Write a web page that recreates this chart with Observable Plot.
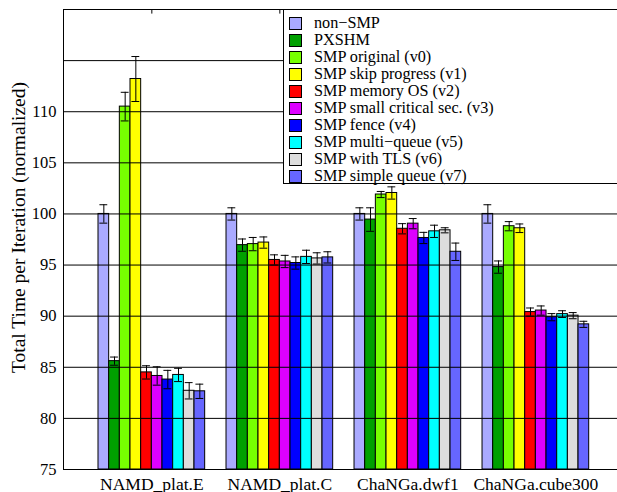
<!DOCTYPE html>
<html>
<head>
<meta charset="utf-8">
<script src="https://cdn.jsdelivr.net/npm/d3@7"></script>
<script src="https://cdn.jsdelivr.net/npm/@observablehq/plot@0.6"></script>
<style>
  html, body { margin: 0; padding: 0; background: #fff; overflow: hidden; }
  #wrap { position: relative; width: 617px; height: 492px; font-family: "Liberation Serif", "Times New Roman", serif; }
  #legend { position: absolute; left: 283px; top: 9px; width: 345px; height: 175px; background: #fff; border: 1px solid #000; box-sizing: border-box; }
  .row { position: absolute; left: 0; height: 17px; display: flex; align-items: center; font-size: 16.2px; color: #000; white-space: nowrap; }
  .sw { width: 11px; height: 11px; border: 1px solid #000; margin-left: 5px; margin-right: 12px; flex: none; }
</style>
</head>
<body>
<div id="wrap"><div id="chart"></div><div id="legend"></div></div>
<script>
const groups = ["NAMD_plat.E", "NAMD_plat.C", "ChaNGa.dwf1", "ChaNGa.cube300"];
const series = ["non−SMP", "PXSHM", "SMP original (v0)", "SMP skip progress (v1)", "SMP memory OS (v2)",
  "SMP small critical sec. (v3)", "SMP fence (v4)", "SMP multi−queue (v5)", "SMP with TLS (v6)", "SMP simple queue (v7)"];
const colors = ["#aaaaff", "#00a000", "#77ff00", "#ffff00", "#ff0000", "#dd00ff", "#0000ff", "#00ffff", "#dddddd", "#6666ff"];

const valuesNamdE = [100, 85.6, 110.5, 113.2, 84.5, 84.15, 83.8, 84.25, 82.7, 82.65];
const errorsNamdE = [0.9, 0.4, 1.4, 2.2, 0.65, 0.9, 0.9, 0.65, 0.8, 0.7];
const valuesNamdC = [100, 96.95, 97.05, 97.2, 95.5, 95.35, 95.2, 95.8, 95.65, 95.75];
const errorsNamdC = [0.6, 0.6, 0.65, 0.55, 0.5, 0.6, 0.6, 0.65, 0.55, 0.55];
const valuesDwf1 = [100, 99.45, 101.9, 102.05, 98.55, 99.05, 97.65, 98.3, 98.4, 96.3];
const errorsDwf1 = [0.6, 1.15, 0.3, 0.6, 0.5, 0.5, 0.55, 0.6, 0.25, 0.85];
const valuesCube300 = [100, 94.8, 98.8, 98.6, 90.4, 90.55, 89.9, 90.2, 90.05, 89.2];
const errorsCube300 = [0.9, 0.6, 0.45, 0.42, 0.4, 0.45, 0.35, 0.33, 0.3, 0.3];

const yTicks = [75, 80, 85, 90, 95, 100, 105, 110];
const gridValues = [80, 85, 90, 95, 100, 105, 110, 115];
const yLabel = "Total Time per Iteration (normalized)";

const allValues = [valuesNamdE, valuesNamdC, valuesDwf1, valuesCube300];
const allErrors = [errorsNamdE, errorsNamdC, errorsDwf1, errorsCube300];

const key = (g, s) => g + "|" + s;
const data = [];
groups.forEach((g, gi) => series.forEach((s, si) => data.push({
  group: g, series: s, key: key(g, s), value: allValues[gi][si], err: allErrors[gi][si]
})));

// band domain: 10 bars per group plus 2 spacer slots between groups
const xDomain = [];
groups.forEach((g, gi) => {
  series.forEach(s => xDomain.push(key(g, s)));
  if (gi < groups.length - 1) xDomain.push("gap" + gi + "a", "gap" + gi + "b");
});
const xRange = [98, 588.7];
const step = (xRange[1] - xRange[0]) / xDomain.length;

const chart = Plot.plot({
  width: 617,
  height: 492,
  marginLeft: 63,
  marginRight: 0,
  marginTop: 9,
  marginBottom: 23,
  style: { fontFamily: "Liberation Serif, Times New Roman, serif", fontSize: "16px", color: "#000", background: "#fff" },
  x: { type: "band", domain: xDomain, range: xRange, padding: 0, axis: null },
  y: { domain: [75, 120], axis: null },
  color: { domain: series, range: colors },
  marks: [
    Plot.barY(data, { x: "key", y1: () => 75, y2: "value", fill: "series", stroke: "#000", strokeWidth: 1, inset: 0 }),
    Plot.ruleY(gridValues, { stroke: "#000", strokeWidth: 1 }),
    Plot.ruleX(data, { x: "key", y1: d => d.value - d.err, y2: d => d.value + d.err, stroke: "#000", strokeWidth: 1 }),
    Plot.tickY(data, { x: "key", y: d => d.value + d.err, stroke: "#000", strokeWidth: 1, insetLeft: 1.4, insetRight: 1.4 }),
    Plot.tickY(data, { x: "key", y: d => d.value - d.err, stroke: "#000", strokeWidth: 1, insetLeft: 1.4, insetRight: 1.4 }),
    Plot.frame({ stroke: "#000", strokeWidth: 1 }),
    Plot.axisY(yTicks, { tickSize: 0, tickPadding: 7, label: null, fontSize: 16.5 }),
    Plot.text([yLabel], { frameAnchor: "left", dx: -45, dy: -12, rotate: -90, text: d => d, fontSize: 19.5, textAnchor: "middle" }),
    Plot.text(groups, { x: g => key(g, series[4]), y: () => 75, dx: step / 2, dy: 20, text: d => d, fontSize: 17.5, textAnchor: "middle", lineAnchor: "bottom" }),
    Plot.ruleX(groups, { x: g => key(g, series[4]), dx: step / 2, y1: () => 120, y2: () => 119.55, stroke: "#000" })
  ]
});
document.getElementById("chart").appendChild(chart);

const legend = document.getElementById("legend");
series.forEach((s, i) => {
  const row = document.createElement("div");
  row.className = "row";
  row.style.top = (4.8 + i * 16.97) + "px";
  const sw = document.createElement("div");
  sw.className = "sw";
  sw.style.background = colors[i];
  const tx = document.createElement("span");
  tx.textContent = s;
  row.appendChild(sw);
  row.appendChild(tx);
  legend.appendChild(row);
});
</script>
</body>
</html>
